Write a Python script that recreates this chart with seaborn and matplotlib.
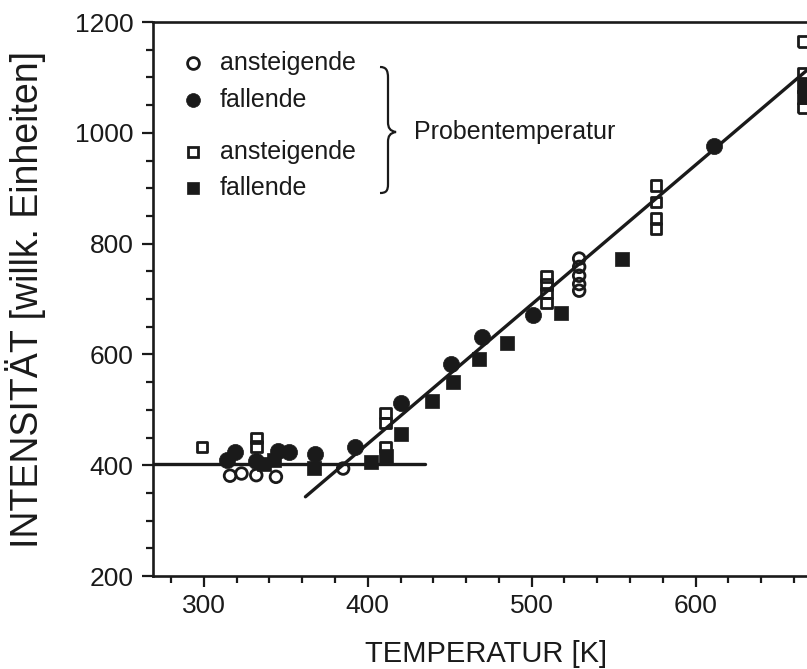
import matplotlib
matplotlib.use("Agg")
import matplotlib.pyplot as plt
from matplotlib.path import Path
from matplotlib.patches import PathPatch
import seaborn as sns

# values
rise_circ_T = [316, 323, 332, 344, 385, 529, 529, 529, 529, 529]
rise_circ_I = [381, 385, 382, 379, 394, 773, 758, 742, 727, 715]
fall_circ_T = [314, 319, 332, 345, 352, 368, 392, 420, 451, 470, 501, 611]
fall_circ_I = [410, 424, 408, 426, 424, 421, 433, 512, 583, 632, 671, 976]
rise_sq_T = [299, 332, 332, 411, 411, 411, 509, 509, 509, 509, 576, 576, 576, 576, 666, 666, 666]
rise_sq_I = [433, 449, 434, 494, 476, 433, 741, 726, 711, 693, 905, 875, 845, 827, 1165, 1108, 1045]
fall_sq_T = [337, 343, 367, 402, 411, 420, 439, 452, 468, 485, 518, 555, 666, 666]
fall_sq_I = [403, 409, 395, 406, 417, 457, 516, 550, 592, 620, 674, 773, 1085, 1065]

flat_T = [269, 435]
flat_I = [403, 403]
fit_T = [362, 668]
fit_I = [343, 1113]

legend_labels = ["ansteigende", "fallende", "ansteigende", "fallende"]
brace_label = "Probentemperatur"
x_ticks = [300, 400, 500, 600]
y_ticks = [200, 400, 600, 800, 1000, 1200]

sns.set_style("ticks")
plt.rcParams["font.family"] = ["Liberation Sans", "DejaVu Sans"]

fig = plt.figure(figsize=(8.07, 6.69), dpi=100)
ax = fig.add_axes([153 / 807, 1 - 576 / 669, 654 / 807, 554 / 669])

styles = [
    (rise_circ_T, rise_circ_I, "o", False, 70),
    (fall_circ_T, fall_circ_I, "o", True, 135),
    (rise_sq_T, rise_sq_I, "s", False, 58),
    (fall_sq_T, fall_sq_I, "s", True, 115),
]
for T, I, mk, filled, size in styles:
    if filled:
        sns.scatterplot(x=T, y=I, marker=mk, s=size, facecolor="#1a1a1a",
                        edgecolor="#1a1a1a", linewidth=0.5, ax=ax, zorder=3)
    else:
        sns.scatterplot(x=T, y=I, marker=mk, s=size, facecolor="none",
                        edgecolor="#1a1a1a", linewidth=2.0, ax=ax, zorder=3)

sns.lineplot(x=flat_T, y=flat_I, color="#1a1a1a", linewidth=2.4, ax=ax, zorder=4)
sns.lineplot(x=fit_T, y=fit_I, color="#1a1a1a", linewidth=2.4, ax=ax, zorder=4)

ax.set_xlim(269, 668)
ax.set_ylim(200, 1200)
ax.set_xticks(x_ticks)
ax.set_xticks(range(280, 668, 20), minor=True)
ax.set_yticks(y_ticks)
ax.set_yticks(range(250, 1200, 50), minor=True)
ax.tick_params(axis="both", which="major", length=8, width=1.6, labelsize=19,
               color="#1a1a1a", labelcolor="#1a1a1a")
ax.tick_params(axis="both", which="minor", length=5, width=1.6, color="#1a1a1a")
ax.tick_params(axis="y", which="major", pad=6)
ax.tick_params(axis="x", which="major", pad=5)
for side in ["left", "bottom", "top"]:
    ax.spines[side].set_linewidth(1.9)
    ax.spines[side].set_color("#1a1a1a")
ax.spines["right"].set_visible(False)

ax.set_xlabel("TEMPERATUR [K]", fontsize=21, color="#1a1a1a")
ax.set_ylabel("INTENSITÄT [willk. Einheiten]", fontsize=27, color="#1a1a1a")
ax.xaxis.set_label_coords(0.509, -0.115)
ax.yaxis.set_label_coords(-0.163, 0.5)

# hand-made legend
def px(x, y):
    return ((x - 153) / 654, (576 - y) / 554)

leg_rows = [63, 100, 152, 188]
leg_marks = [("o", "none", 8.5), ("o", "#1a1a1a", 10), ("s", "none", 7.5), ("s", "#1a1a1a", 9)]
for row, (mk, fc, ms), lab in zip(leg_rows, leg_marks, legend_labels):
    mx, my = px(193, row)
    ax.plot([mx], [my], marker=mk, markersize=ms, markerfacecolor=fc,
            markeredgecolor="#1a1a1a", markeredgewidth=2.0 if fc == "none" else 0.5,
            linestyle="none", transform=ax.transAxes, clip_on=False)
    tx, ty = px(220, row)
    ax.text(tx, ty, lab, fontsize=18, va="center", ha="left",
            color="#1a1a1a", transform=ax.transAxes)

brace_px = [(380, 67), (386, 67), (388, 70), (388, 78), (388, 122),
            (388, 128), (390, 131), (396, 132), (390, 133), (388, 136),
            (388, 142), (388, 184), (388, 191), (386, 193), (380, 193)]
codes = [Path.MOVETO, Path.CURVE4, Path.CURVE4, Path.CURVE4, Path.LINETO,
         Path.CURVE4, Path.CURVE4, Path.CURVE4, Path.CURVE4, Path.CURVE4,
         Path.CURVE4, Path.LINETO, Path.CURVE4, Path.CURVE4, Path.CURVE4]
brace = Path([px(*p) for p in brace_px], codes)
ax.add_patch(PathPatch(brace, facecolor="none", edgecolor="#1a1a1a", linewidth=1.6,
                       transform=ax.transAxes, clip_on=False))
bx, by = px(414, 132)
ax.text(bx, by, brace_label, fontsize=18, va="center", ha="left",
        color="#1a1a1a", transform=ax.transAxes)

fig.savefig("out.png", dpi=100, facecolor="white")
